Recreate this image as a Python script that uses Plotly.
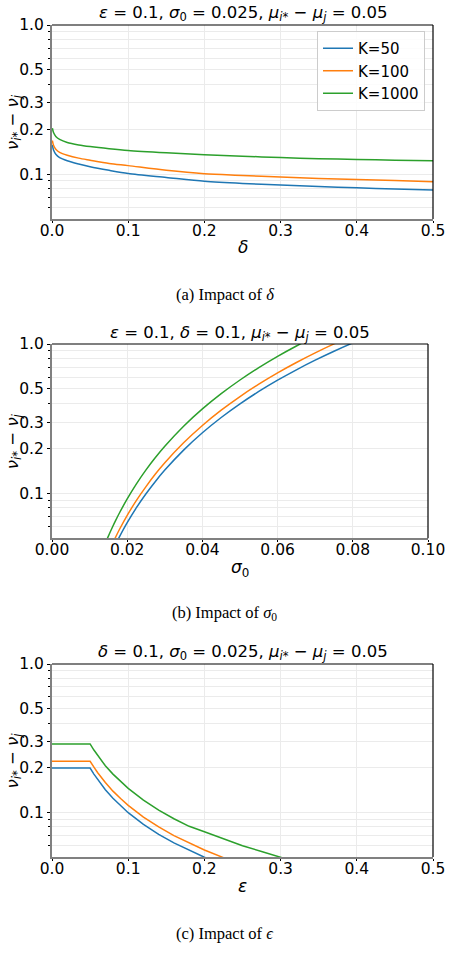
import math
import plotly.graph_objects as go

W, H = 451, 959

# ---------------- data ----------------
series_names = ["K=50", "K=100", "K=1000"]
series_colors = ["#1f77b4", "#ff7f0e", "#2ca02c"]

# (a) impact of delta
delta = [0.0005, 0.002, 0.005, 0.01, 0.02, 0.035, 0.05, 0.075, 0.1, 0.15,
         0.2, 0.25, 0.3, 0.35, 0.4, 0.45, 0.5]
a_k50 = [0.157, 0.145, 0.136, 0.129, 0.123, 0.117, 0.112, 0.106, 0.101, 0.095,
         0.0895, 0.0865, 0.0845, 0.0825, 0.081, 0.0795, 0.0783]
a_k100 = [0.168, 0.156, 0.147, 0.140, 0.134, 0.128, 0.124, 0.118, 0.114, 0.106,
          0.1005, 0.098, 0.0955, 0.0935, 0.092, 0.0905, 0.089]
a_k1000 = [0.203, 0.190, 0.179, 0.171, 0.163, 0.157, 0.153, 0.148, 0.144, 0.139,
           0.135, 0.132, 0.129, 0.127, 0.1255, 0.124, 0.1227]

# (b) impact of sigma_0
sig_k50 = [0.017, 0.018, 0.02, 0.0225, 0.025, 0.0275, 0.03, 0.035, 0.04, 0.045,
           0.05, 0.055, 0.06, 0.065, 0.07, 0.075, 0.08, 0.085]
b_k50 = [0.046, 0.0515, 0.0636, 0.0805, 0.0994, 0.1202, 0.1431, 0.1948, 0.2544,
         0.322, 0.3975, 0.481, 0.5724, 0.6718, 0.7791, 0.8944, 1.0176, 1.149]
sig_k100 = [0.016, 0.017, 0.018, 0.02, 0.0225, 0.025, 0.0275, 0.03, 0.035, 0.04,
            0.045, 0.05, 0.055, 0.06, 0.065, 0.07, 0.075, 0.08]
b_k100 = [0.0456, 0.0514, 0.0577, 0.0712, 0.0901, 0.111, 0.1346, 0.1602, 0.218,
          0.2848, 0.3605, 0.445, 0.5385, 0.641, 0.752, 0.872, 1.001, 1.139]
sig_k1000 = [0.014, 0.015, 0.016, 0.017, 0.018, 0.02, 0.0225, 0.025, 0.0275, 0.03,
             0.035, 0.04, 0.045, 0.05, 0.055, 0.06, 0.065, 0.07]
b_k1000 = [0.045, 0.0517, 0.0588, 0.0664, 0.0744, 0.0918, 0.1162, 0.1435, 0.1736,
           0.2066, 0.2813, 0.3674, 0.4649, 0.574, 0.6946, 0.8266, 0.970, 1.125]

# (c) impact of epsilon
eps = [0.0, 0.05, 0.055, 0.06, 0.07, 0.08, 0.09, 0.1, 0.12, 0.14, 0.16, 0.18,
       0.2, 0.225, 0.25, 0.275, 0.3, 0.31]
c_k50 = [0.199, 0.199, 0.181, 0.166, 0.142, 0.1245, 0.1105, 0.0995, 0.083, 0.071,
         0.0622, 0.0553, 0.0498, 0.0442]
c_k100 = [0.221, 0.221, 0.202, 0.185, 0.159, 0.139, 0.124, 0.1115, 0.093, 0.0797,
          0.0697, 0.062, 0.0557, 0.0495, 0.0446]
c_k1000 = [0.289, 0.289, 0.263, 0.241, 0.206, 0.181, 0.161, 0.145, 0.121, 0.1035,
           0.0905, 0.0805, 0.074, 0.066, 0.0595, 0.0545, 0.0498, 0.048]

y_major = [0.1, 0.2, 0.3, 0.5, 1.0]
y_major_text = ["0.1", "0.2", "0.3", "0.5", "1.0"]
y_minor = [0.06, 0.07, 0.08, 0.09, 0.4, 0.6, 0.7, 0.8, 0.9]
x_ticks_a = [0.0, 0.1, 0.2, 0.3, 0.4, 0.5]
x_text_a = ["0.0", "0.1", "0.2", "0.3", "0.4", "0.5"]
x_ticks_b = [0.0, 0.02, 0.04, 0.06, 0.08, 0.10]
x_text_b = ["0.00", "0.02", "0.04", "0.06", "0.08", "0.10"]

# ---------------- figure ----------------
def px(x):
    return x / W

def py(y):
    return 1 - y / H

FONT = "DejaVu Sans"
GRID = "#ebebeb"
TICK_SIZE = 15.5

fig = go.Figure()

panels = [
    ("x", "y", [(delta, a_k50), (delta, a_k100), (delta, a_k1000)], "spline"),
    ("x2", "y2", [(sig_k50, b_k50), (sig_k100, b_k100), (sig_k1000, b_k1000)], "spline"),
    ("x3", "y3", [(eps[:len(c_k50)], c_k50), (eps[:len(c_k100)], c_k100),
                  (eps[:len(c_k1000)], c_k1000)], "linear"),
]
for pi, (xa, ya, data, shape) in enumerate(panels):
    for si, (xs, ys) in enumerate(data):
        fig.add_trace(go.Scatter(
            x=xs, y=ys, xaxis=xa, yaxis=ya, mode="lines",
            name=series_names[si], legendgroup=series_names[si],
            showlegend=(pi == 0),
            line=dict(color=series_colors[si], width=1.5, shape=shape,
                      smoothing=0.8 if shape == "spline" else None),
        ))

# pixel boxes: (left, right, top, bottom)
boxes = [(52, 433, 25, 219), (52, 428, 344, 538.3), (52, 433, 664, 857)]
xranges = [[0, 0.5], [0, 0.1], [0, 0.5]]
xtick_sets = [(x_ticks_a, x_text_a), (x_ticks_b, x_text_b), (x_ticks_a, x_text_a)]

layout = dict(
    width=W, height=H, margin=dict(l=0, r=0, t=0, b=0, pad=0, autoexpand=False),
    paper_bgcolor="white", plot_bgcolor="white",
    font=dict(family=FONT, size=14, color="black"),
    showlegend=True,
    legend=dict(x=px(425), xanchor="right", y=py(31), yanchor="top",
                bordercolor="#cccccc", borderwidth=1, bgcolor="rgba(255,255,255,0.85)",
                font=dict(family=FONT, size=15), tracegroupgap=0,
                itemwidth=30),
)

shapes = []
for i, (l, r, t, b) in enumerate(boxes):
    sfx = "" if i == 0 else str(i + 1)
    tv, tt = xtick_sets[i]
    layout["xaxis" + sfx] = dict(
        domain=[px(l), px(r)], anchor="y" + sfx, range=xranges[i], automargin=False,
        tickvals=tv, ticktext=tt, ticks="outside", ticklen=2, tickcolor="black",
        ticklabelstandoff=-6,
        showgrid=True, gridcolor=GRID, gridwidth=1, zeroline=False,
        showline=True, linecolor="#808080", linewidth=2,
        tickfont=dict(family=FONT, size=TICK_SIZE),
    )
    layout["yaxis" + sfx] = dict(
        domain=[py(b), py(t)], anchor="x" + sfx, type="log", automargin=False,
        range=[math.log10(0.05), 0],
        tickvals=y_major, ticktext=y_major_text, ticks="outside", ticklen=3,
        tickcolor="black", showgrid=True, gridcolor=GRID, gridwidth=1,
        zeroline=False, showline=True, linecolor="#808080", linewidth=2,
        tickfont=dict(family=FONT, size=TICK_SIZE),
        minor=dict(tickvals=y_minor, ticks="outside", ticklen=2, tickcolor="black",
                   showgrid=True, gridcolor=GRID, gridwidth=1),
    )
    # top and right spines
    shapes.append(dict(type="line", xref="x" + sfx + " domain", yref="y" + sfx + " domain",
                       x0=0, x1=1, y0=1, y1=1, line=dict(color="black", width=1.2)))
    shapes.append(dict(type="line", xref="x" + sfx + " domain", yref="y" + sfx + " domain",
                       x0=1, x1=1, y0=0, y1=1, line=dict(color="black", width=1.2)))
layout["shapes"] = shapes

titles = [
    "<i>ε</i> = 0.1, <i>σ</i><sub>0</sub> = 0.025, <i>μ</i><sub><i>i</i>*</sub> − <i>μ</i><sub><i>j</i></sub> = 0.05",
    "<i>ε</i> = 0.1, <i>δ</i> = 0.1, <i>μ</i><sub><i>i</i>*</sub> − <i>μ</i><sub><i>j</i></sub> = 0.05",
    "<i>δ</i> = 0.1, <i>σ</i><sub>0</sub> = 0.025, <i>μ</i><sub><i>i</i>*</sub> − <i>μ</i><sub><i>j</i></sub> = 0.05",
]
xtitles = ["<i>δ</i>", "<i>σ</i><sub>0</sub>", "<i>ε</i>"]
captions = ["(a) Impact of <i>δ</i>", "(b) Impact of <i>σ</i><sub>0</sub>",
            "(c) Impact of <i>ϵ</i>"]
title_y = [14, 333, 652]
xtitle_y = [247, 568, 886]
caption_y = [295, 613, 933]
ytitle = "<i>ν</i><sub><i>i</i>*</sub> − <i>ν</i><sub><i>j</i></sub>"

ann = []
for i, (l, r, t, b) in enumerate(boxes):
    cx = (l + r) / 2
    ann.append(dict(text=titles[i], x=px(cx), y=py(title_y[i]), xref="paper", yref="paper",
                    xanchor="center", yanchor="middle", showarrow=False,
                    font=dict(family=FONT, size=16.5)))
    ann.append(dict(text=xtitles[i], x=px(cx), y=py(xtitle_y[i]), xref="paper", yref="paper",
                    xanchor="center", yanchor="middle", showarrow=False,
                    font=dict(family=FONT, size=17)))
    ann.append(dict(text=ytitle, x=px(13), y=py((t + b) / 2), xref="paper", yref="paper",
                    xanchor="center", yanchor="middle", showarrow=False, textangle=-90,
                    font=dict(family=FONT, size=16.5)))
    ann.append(dict(text=captions[i], x=px(224.5), y=py(caption_y[i]), xref="paper",
                    yref="paper", xanchor="center", yanchor="middle", showarrow=False,
                    font=dict(family="Liberation Serif", size=16.5)))
layout["annotations"] = ann

fig.update_layout(**layout)
fig.write_html("out.html")
